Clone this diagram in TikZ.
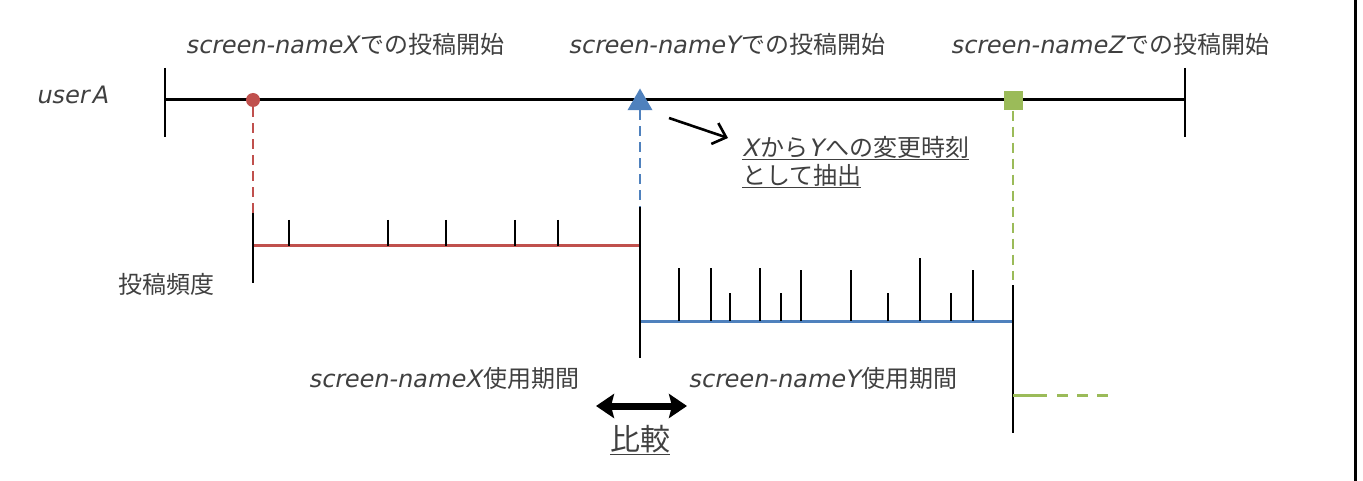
\documentclass[tikz,border=0pt]{standalone}
\usepackage{fontspec}
\setmainfont{Noto Sans CJK JP}
\newfontfamily\latit{DejaVu Sans}[FakeSlant=0.2]
\usetikzlibrary{arrows.meta,shapes.geometric}
\definecolor{cred}{HTML}{C0504D}
\definecolor{cblue}{HTML}{4F81BD}
\definecolor{cgreen}{HTML}{9BBB59}
\definecolor{ctext}{HTML}{404040}
\newcommand\snm[1]{{\latit screen-name#1}\hspace{2pt}}
\begin{document}
\begin{tikzpicture}[x=1pt,y=-1pt,
  lbl/.style={font=\fontsize{24}{28}\selectfont, text=ctext, inner sep=0pt},
  axisline/.style={line width=3pt, black},
  tickline/.style={line width=2.6pt, black},
  dashconn/.style={line width=2.6pt, dash pattern=on 10pt off 6pt},
  period/.style={line width=3pt},
]
\useasboundingbox (0,0) rectangle (1363,481);

% main timeline
\coordinate (tl) at (165,100);
\coordinate (tr) at (1185,100);
\draw[axisline] (tl) -- (tr);
\draw[tickline] (165,68) -- (165,137);
\draw[tickline] (1185,68) -- (1185,137);

% markers
\node[circle, fill=cred, minimum size=14pt, inner sep=0pt] (mx) at (253,100) {};
\node[regular polygon, regular polygon sides=3, fill=cblue, minimum size=29pt, inner sep=0pt] (my) at (640,103) {};
\node[rectangle, fill=cgreen, minimum size=19pt, inner sep=0pt] (mz) at (1013,101) {};

% dashed drops
\coordinate (xa) at (253,213);
\coordinate (ya) at (640,207);
\coordinate (za) at (1013,280);
\draw[dashconn, cred] (mx) -- (xa);
\draw[dashconn, cblue] (my) -- (ya);
\draw[dashconn, cgreen] (mz) -- (za);

% X period
\draw[period, cred] (253,246) -- (640,246);
\draw[tickline] (xa) -- (253,283);
\foreach \x in {289,388,446,515,558} \draw[tickline] (\x,220) -- (\x,246);

% Y period
\draw[period, cblue] (640,321) -- (1013,321);
\draw[tickline] (ya) -- (640,358);
\foreach \x/\h in {679/53,711/53,730/28,760/53,781/28,801/51,851/51,888/28,920/63,951/28,973/51}
  \draw[tickline] (\x,321) -- ++(0,-\h);

% Z period
\draw[tickline] (1013,285) -- (1013,433);
\draw[period, cgreen] (1013,395) -- (1047,395);
\draw[period, cgreen, dash pattern=on 11pt off 9pt] (1057,395) -- (1110,395);

% labels
\node[lbl] (lx) at (345,44) {\snm{X}での投稿開始};
\node[lbl] (ly) at (727,44) {\snm{Y}での投稿開始};
\node[lbl] (lz) at (1110,44) {\snm{Z}での投稿開始};
\node[lbl] (ua) at (72,95) {{\latit user}\hspace{3pt}{\latit A}};
\node[lbl] (freq) at (166,284) {投稿頻度};
\node[lbl] (px) at (444,378) {\snm{X}使用期間};
\node[lbl] (py) at (823,378) {\snm{Y}使用期間};
\node[lbl, align=left, anchor=west] (chg) at (742,162) {\underline{{\latit X}\hspace{2pt}から{\latit Y}\hspace{2pt}への変更時刻}\\\underline{として抽出}};

% extraction arrow
\coordinate (as) at (669,118);
\coordinate (ae) at (728,138);
\draw[line width=2.6pt, -{Straight Barb[length=12pt,width=22pt]}] (as) -- (ae);

% compare arrow
\coordinate (cl) at (596,406);
\coordinate (cr) at (687,406);
\draw[line width=7pt, {Stealth[length=18pt,width=24pt,inset=3pt]}-{Stealth[length=18pt,width=24pt,inset=3pt]}] (cl) -- (cr);
\node[font=\fontsize{30}{34}\selectfont, text=ctext, inner sep=0pt] (cmp) at (640,440) {\underline{比較}};

% right frame edge
\draw[line width=3pt] (1355,0) -- (1355,481);
\end{tikzpicture}
\end{document}
